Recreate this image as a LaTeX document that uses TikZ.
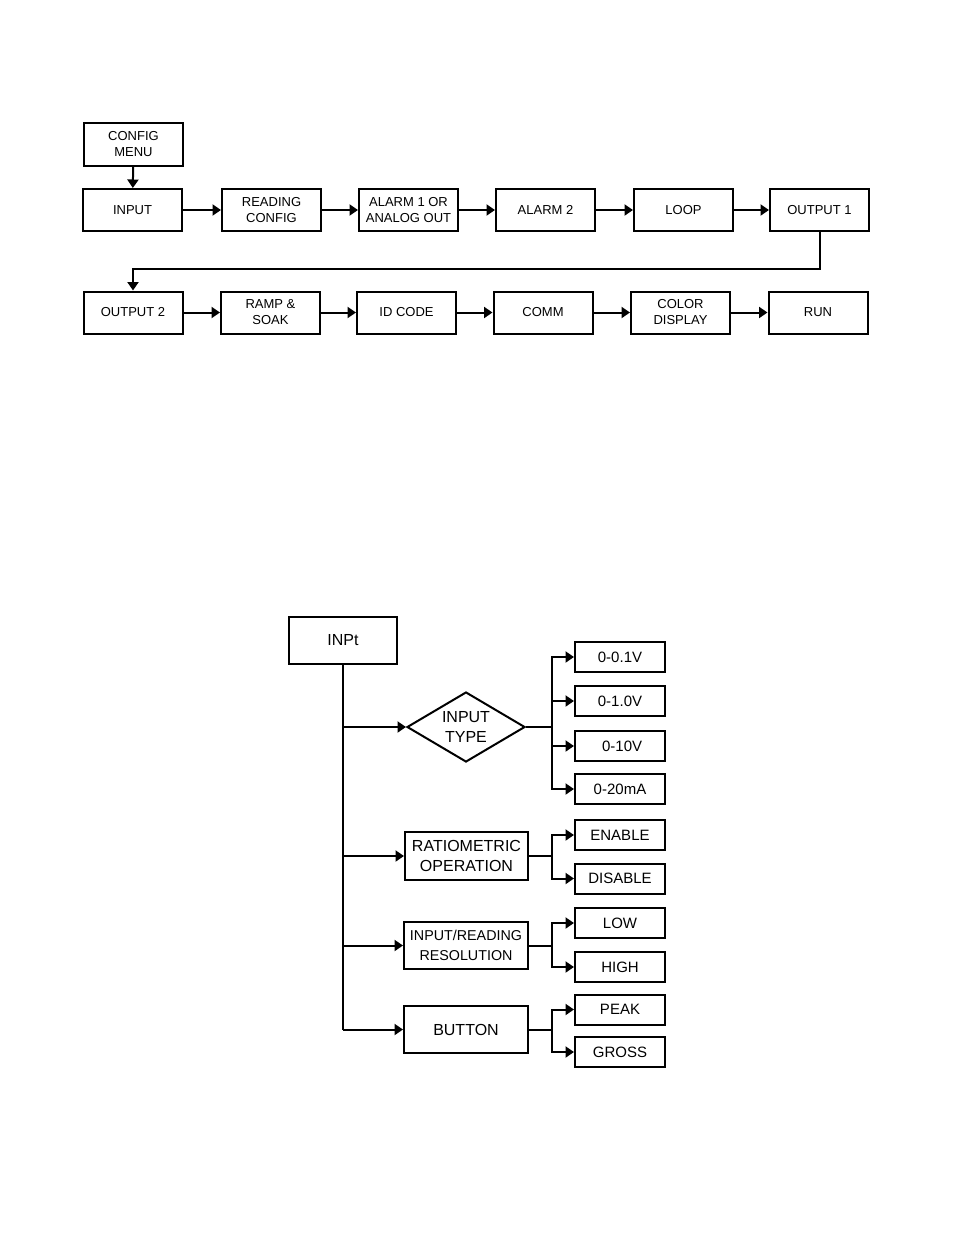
\documentclass[tikz,border=0pt]{standalone}
\usepackage{fontspec}
\setmainfont{Liberation Sans}
\usetikzlibrary{arrows.meta,shapes.geometric}
\begin{document}
\begin{tikzpicture}[x=1pt,y=-1pt,line width=2pt,
  topbox/.style={draw,rectangle,minimum width=99pt,minimum height=42pt,inner sep=0pt,align=center,font=\fontsize{13}{16}\selectfont},
  midbox/.style={draw,rectangle,minimum width=124pt,minimum height=47pt,inner sep=0pt,align=center,font=\fontsize{16}{20}\selectfont},
  optbox/.style={draw,rectangle,minimum width=90pt,minimum height=30pt,inner sep=0pt,align=center,font=\fontsize{15}{18}\selectfont},
  arr/.style={-{Triangle[length=8.5pt,width=11pt]}}]
\useasboundingbox (0,0) rectangle (954,1248);
% top flow
\node[topbox,minimum height=43pt] (cfg) at (133.5,144.5) {CONFIG\\MENU};
\node[topbox] (inp) at (132.5,210) {INPUT};
\node[topbox] (rdg) at (271.5,210) {READING\\CONFIG};
\node[topbox] (al1) at (408.5,210) {ALARM 1 OR\\ANALOG OUT};
\node[topbox] (al2) at (545.5,210) {ALARM 2};
\node[topbox] (loop) at (683.5,210) {LOOP};
\node[topbox] (out1) at (819.5,210) {OUTPUT 1};
\node[topbox] (out2) at (133,312.5) {OUTPUT 2};
\node[topbox] (ramp) at (270.5,312.5) {RAMP \&\\SOAK};
\node[topbox] (id) at (406.5,312.5) {ID CODE};
\node[topbox] (comm) at (543,312.5) {COMM};
\node[topbox] (col) at (680.5,312.5) {COLOR\\DISPLAY};
\node[topbox] (run) at (818,312.5) {RUN};
\draw[arr] (cfg) -- (inp);
\draw[arr] (inp) -- (rdg);
\draw[arr] (rdg) -- (al1);
\draw[arr] (al1) -- (al2);
\draw[arr] (al2) -- (loop);
\draw[arr] (loop) -- (out1);
\draw[arr] (out1.south) -- ++(0,37) -| (out2.north);
\draw[arr] (out2) -- (ramp);
\draw[arr] (ramp) -- (id);
\draw[arr] (id) -- (comm);
\draw[arr] (comm) -- (col);
\draw[arr] (col) -- (run);
% lower tree
\node[draw,rectangle,minimum width=108pt,minimum height=47pt,inner sep=0pt,font=\fontsize{16}{20}\selectfont] (inpt) at (343,640.5) {INPt};
\node[draw,diamond,aspect=1.7,inner sep=0pt,minimum width=118pt,minimum height=70pt,align=center,font=\fontsize{16}{20}\selectfont] (itype) at (466,727) {INPUT\\TYPE};
\node[midbox,minimum width=123pt,minimum height=48pt] (ratio) at (466.5,856) {RATIOMETRIC\\OPERATION};
\node[midbox,font=\fontsize{14.3}{20}\selectfont] (res) at (466,945.5) {INPUT/READING\\RESOLUTION};
\node[midbox] (btn) at (466,1029.5) {BUTTON};
\node[optbox] (v01) at (620,657) {0-0.1V};
\node[optbox] (v1) at (620,701) {0-1.0V};
\node[optbox] (v10) at (620,746) {\ 0-10V};
\node[optbox] (ma) at (620,789) {0-20mA};
\node[optbox] (en) at (620,835) {ENABLE};
\node[optbox] (dis) at (620,878.5) {DISABLE};
\node[optbox] (low) at (620,923) {LOW};
\node[optbox] (high) at (620,967) {HIGH};
\node[optbox] (peak) at (620,1009.5) {PEAK};
\node[optbox] (gross) at (620,1052) {GROSS};
\draw (inpt.south) -- (inpt.south |- btn.west);
\draw[arr] (inpt.south |- itype.west) -- (itype.west);
\draw[arr] (inpt.south |- ratio.west) -- (ratio.west);
\draw[arr] (inpt.south |- res.west) -- (res.west);
\draw[arr] (inpt.south |- btn.west) -- (btn.west);
\draw (itype.east) -- ++(26,0) coordinate (f1);
\foreach \t in {v01,v1,v10,ma} \draw[arr] (f1) |- (\t.west);
\draw (ratio.east) -- ++(23,0) coordinate (f2);
\foreach \t in {en,dis} \draw[arr] (f2) |- (\t.west);
\draw (res.east) -- ++(23,0) coordinate (f3);
\foreach \t in {low,high} \draw[arr] (f3) |- (\t.west);
\draw (btn.east) -- ++(23,0) coordinate (f4);
\foreach \t in {peak,gross} \draw[arr] (f4) |- (\t.west);
\end{tikzpicture}
\end{document}
